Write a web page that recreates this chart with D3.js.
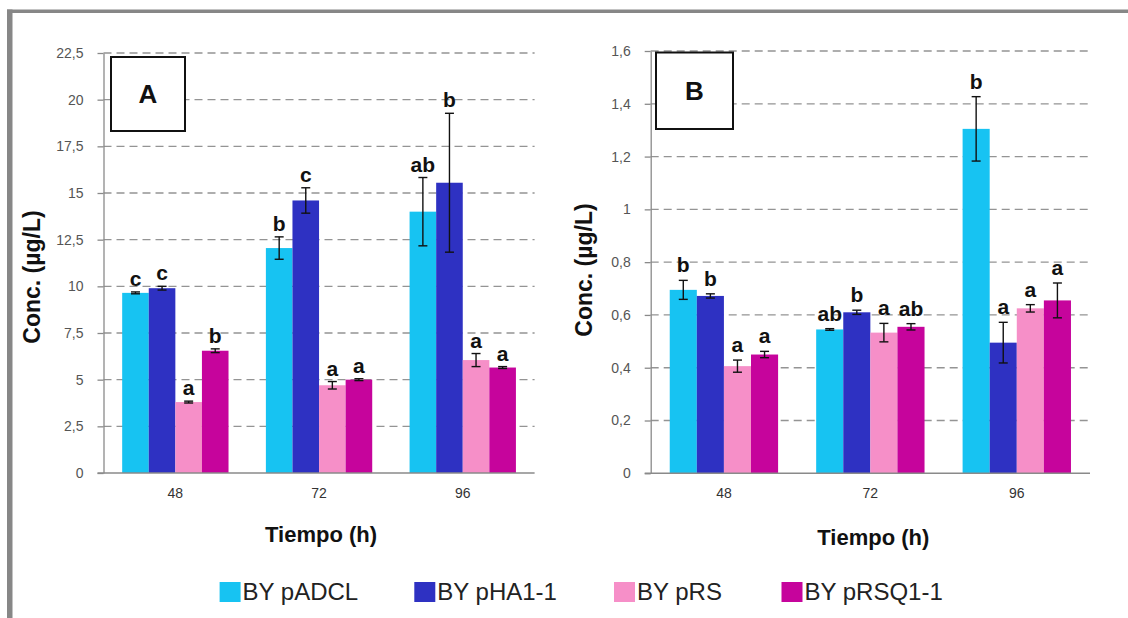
<!DOCTYPE html>
<html>
<head>
<meta charset="utf-8">
<script src="https://cdn.jsdelivr.net/npm/d3@7"></script>
<style>
  html, body { margin: 0; padding: 0; background: #fff; }
  svg { display: block; font-family: "Liberation Sans", Arial, sans-serif; }
</style>
</head>
<body>
<svg id="chart" width="1128" height="618"></svg>
<script>
// Sampling times (h) and strains
const categories = ["48", "72", "96"];
const seriesNames = ["BY pADCL", "BY pHA1-1", "BY pRS", "BY pRSQ1-1"];
const seriesColors = ["#17c3f2", "#2e31c2", "#f68fc8", "#c6049c"];

// Panel A: concentration (µg/L), one row per strain, columns = 48/72/96 h
const meansA = [
  [9.65, 12.05, 14.0],
  [9.9, 14.6, 15.55],
  [3.8, 4.7, 6.05],
  [6.55, 5.0, 5.65]
];
const errorsA = [
  [0.05, 0.6, 1.83],
  [0.1, 0.68, 3.72],
  [0.05, 0.2, 0.35],
  [0.1, 0.05, 0.05]
];
const lettersA = [
  ["c", "b", "ab"],
  ["c", "c", "b"],
  ["a", "a", "a"],
  ["b", "a", "a"]
];
const ticksA = [0, 2.5, 5, 7.5, 10, 12.5, 15, 17.5, 20, 22.5];

// Panel B: concentration (µg/L)
const meansB = [
  [0.695, 0.545, 1.305],
  [0.672, 0.61, 0.495],
  [0.406, 0.533, 0.625],
  [0.45, 0.555, 0.655]
];
const errorsB = [
  [0.036, 0.003, 0.122],
  [0.008, 0.008, 0.077],
  [0.023, 0.035, 0.014],
  [0.012, 0.012, 0.066]
];
const lettersB = [
  ["b", "ab", "b"],
  ["b", "b", "a"],
  ["a", "a", "a"],
  ["a", "ab", "a"]
];
const ticksB = [0, 0.2, 0.4, 0.6, 0.8, 1, 1.2, 1.4, 1.6];

const xTitle = "Tiempo (h)";
const yTitle = "Conc. (µg/L)";

const locale = d3.formatLocale({ decimal: ",", thousands: ".", grouping: [3], currency: ["", "€"] });
const fmt = locale.format("~g");

const svg = d3.select("#chart");
svg.append("rect").attr("width", 1128).attr("height", 618).attr("fill", "#fff");

// outer frame (left and top edges)
svg.append("rect").attr("x", 7).attr("y", 9.5).attr("width", 5.5).attr("height", 609).attr("fill", "#878787");
svg.append("rect").attr("x", 7).attr("y", 9.5).attr("width", 1121).attr("height", 3.5).attr("fill", "#878787");

function drawPanel(p) {
  const g = svg.append("g");
  const x = d3.scaleBand().domain(categories).range([p.left, p.right])
    .paddingInner(0.26).paddingOuter(0.13);
  const xs = d3.scaleBand().domain(seriesNames).range([0, x.bandwidth()]);
  const y = d3.scaleLinear().domain([0, p.ticks[p.ticks.length - 1]]).range([p.bottom, p.top]);

  // dashed gridlines
  g.append("g").selectAll("line").data(p.ticks.filter(t => t > 0)).join("line")
    .attr("x1", p.left).attr("x2", p.right)
    .attr("y1", d => y(d)).attr("y2", d => y(d))
    .attr("stroke", "#949494").attr("stroke-width", 1.3).attr("stroke-dasharray", "8,5");

  // bars
  const rows = [];
  seriesNames.forEach((s, si) => {
    categories.forEach((c, ci) => {
      rows.push({ s, si, c, v: p.means[si][ci], e: p.errors[si][ci], l: p.letters[si][ci] });
    });
  });
  g.append("g").selectAll("rect").data(rows).join("rect")
    .attr("x", d => x(d.c) + xs(d.s))
    .attr("width", xs.bandwidth())
    .attr("y", d => y(d.v))
    .attr("height", d => y(0) - y(d.v))
    .attr("fill", d => seriesColors[d.si]);

  // y axis
  const ax = g.append("g").attr("transform", `translate(${p.left},0)`)
    .call(d3.axisLeft(y).tickValues(p.ticks).tickFormat(fmt).tickSize(6).tickSizeOuter(0).tickPadding(14));
  ax.select(".domain").attr("stroke", "#8a8a8a").attr("stroke-width", 1.3);
  ax.selectAll(".tick line").attr("stroke", "#8a8a8a").attr("stroke-width", 1.3);
  ax.selectAll(".tick text").attr("fill", "#555").attr("font-size", 14)
    .attr("font-family", "'Liberation Sans', Arial, sans-serif");

  // baseline
  g.append("line").attr("x1", p.left - 6).attr("x2", p.right)
    .attr("y1", y(0)).attr("y2", y(0)).attr("stroke", "#8a8a8a").attr("stroke-width", 1.5);

  // error bars
  const eb = g.append("g").attr("stroke", "#111").attr("stroke-width", 1.4);
  rows.forEach(d => {
    const cx = x(d.c) + xs(d.s) + xs.bandwidth() / 2;
    const y1 = y(d.v + d.e), y2 = y(d.v - d.e);
    eb.append("line").attr("x1", cx).attr("x2", cx).attr("y1", y1).attr("y2", y2);
    eb.append("line").attr("x1", cx - 4.5).attr("x2", cx + 4.5).attr("y1", y1).attr("y2", y1);
    eb.append("line").attr("x1", cx - 4.5).attr("x2", cx + 4.5).attr("y1", y2).attr("y2", y2);
  });

  // significance letters
  g.append("g").selectAll("text").data(rows).join("text")
    .attr("x", d => x(d.c) + xs(d.s) + xs.bandwidth() / 2)
    .attr("y", d => y(d.v + d.e) - p.letterGap)
    .attr("text-anchor", "middle").attr("font-weight", "bold").attr("font-size", 21)
    .attr("fill", "#111").text(d => d.l);

  // category labels
  g.append("g").selectAll("text").data(categories).join("text")
    .attr("x", d => x(d) + x.bandwidth() / 2).attr("y", 498)
    .attr("text-anchor", "middle").attr("font-size", 14).attr("fill", "#333").text(d => d);

  // axis titles
  g.append("text").attr("x", (p.left + p.right) / 2 + p.xTitleDx).attr("y", p.xTitleY)
    .attr("text-anchor", "middle").attr("font-weight", "bold").attr("font-size", 22)
    .attr("fill", "#111").text(xTitle);
  g.append("text").attr("transform", `translate(${p.yTitleX},${p.yTitleY}) rotate(-90)`)
    .attr("text-anchor", "middle").attr("font-weight", "bold").attr("font-size", 23)
    .attr("fill", "#111").text(yTitle);

  // panel tag box
  g.append("rect").attr("x", p.box[0]).attr("y", p.box[1]).attr("width", p.box[2]).attr("height", p.box[3])
    .attr("fill", "#fff").attr("stroke", "#111").attr("stroke-width", 2);
  g.append("text").attr("x", p.box[0] + p.box[2] / 2).attr("y", p.box[1] + p.box[3] / 2 + 9)
    .attr("text-anchor", "middle").attr("font-weight", "bold").attr("font-size", 26)
    .attr("fill", "#111").text(p.tag);
}

drawPanel({
  left: 103.5, right: 534.6, top: 53, bottom: 473,
  ticks: ticksA, means: meansA, errors: errorsA, letters: lettersA,
  letterGap: 6, tag: "A", box: [111, 57, 74, 74],
  xTitleDx: 2, xTitleY: 542, yTitleX: 40, yTitleY: 277
});
drawPanel({
  left: 650.7, right: 1090, top: 51, bottom: 473.3,
  ticks: ticksB, means: meansB, errors: errorsB, letters: lettersB,
  letterGap: 8, tag: "B", box: [656, 52.5, 77, 76.5],
  xTitleDx: 3, xTitleY: 545, yTitleX: 592, yTitleY: 270
});

// legend
const legend = svg.append("g");
const legendX = [219.6, 414.3, 614, 781.5];
seriesNames.forEach((s, i) => {
  legend.append("rect").attr("x", legendX[i]).attr("y", 582).attr("width", 21).attr("height", 20)
    .attr("fill", seriesColors[i]);
  legend.append("text").attr("x", legendX[i] + 23).attr("y", 600)
    .attr("font-size", 24).attr("fill", "#222").text(s);
});
</script>
</body>
</html>
